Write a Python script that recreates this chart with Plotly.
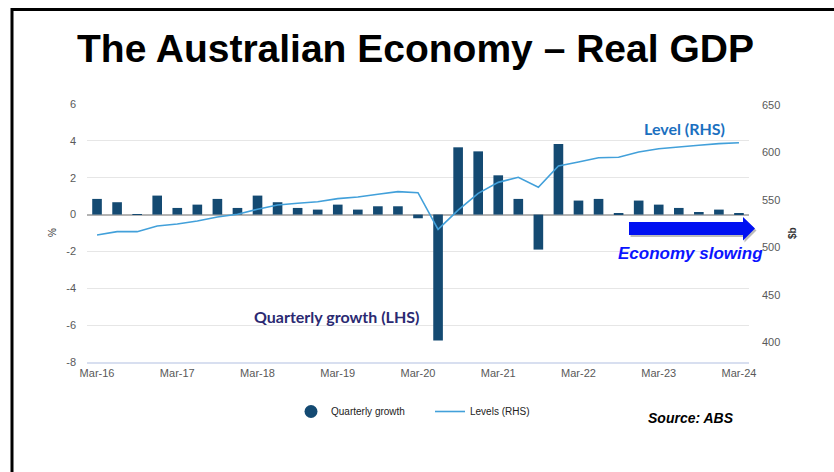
import plotly.graph_objects as go

# Quarter labels, Mar-16 .. Mar-24
quarters = [f"{m}-{y}" for y in range(16, 25) for m in ("Mar", "Jun", "Sep", "Dec")][:33]
tick_labels = ["Mar-16", "Mar-17", "Mar-18", "Mar-19", "Mar-20",
               "Mar-21", "Mar-22", "Mar-23", "Mar-24"]
growth_ticks = [6, 4, 2, 0, -2, -4, -6, -8]
level_ticks = [400, 450, 500, 550, 600, 650]

# Quarterly growth in real GDP, % (LHS)
growth = [0.85, 0.67, 0.02, 1.03, 0.36, 0.54, 0.85, 0.36,
          1.03, 0.67, 0.36, 0.27, 0.54, 0.27, 0.45, 0.45,
          -0.20, -6.83, 3.65, 3.43, 2.13, 0.85, -1.90, 3.83,
          0.76, 0.85, 0.05, 0.76, 0.54, 0.36, 0.14, 0.27, 0.07]

# Level of real GDP, $b (RHS)
levels = [512.9, 516.4, 516.4, 522.4, 524.5, 527.6, 531.9, 534.7,
          540.0, 544.5, 546.3, 548.0, 551.2, 553.0, 555.8, 558.6,
          557.5, 518.8, 539.2, 556.8, 568.4, 573.7, 563.2, 585.7,
          589.9, 594.4, 594.8, 600.4, 603.9, 606.0, 607.5, 609.2, 610.2]

W, H = 834, 472
L, R, T, B = 87, 749, 104, 362


def px(x):
    return (x - L) / (R - L)


def py(y):
    return (B - y) / (B - T)


BAR = "#144a72"
LINE = "#42a0da"
TICK = dict(family="Liberation Sans, Arial, sans-serif", size=11, color="#595959")

fig = go.Figure()

fig.add_trace(go.Bar(
    x=quarters, y=growth, marker=dict(color=BAR, line=dict(width=0)),
    width=0.48, name="Quarterly growth", showlegend=False,
))
# legend entry for the bars, shown with a round marker
fig.add_trace(go.Scatter(
    x=[None], y=[None], mode="markers", name="Quarterly growth",
    marker=dict(color=BAR, size=13, symbol="circle"),
))
fig.add_trace(go.Scatter(
    x=quarters, y=levels, yaxis="y2", mode="lines", name="Levels (RHS)",
    line=dict(color=LINE, width=1.6),
))

shapes = []
# slide frame: top and left rules
shapes.append(dict(type="line", xref="paper", yref="paper",
                   x0=px(11), x1=px(834), y0=py(9.5), y1=py(9.5),
                   line=dict(color="black", width=3)))
shapes.append(dict(type="line", xref="paper", yref="paper",
                   x0=px(12), x1=px(12), y0=py(8), y1=py(472),
                   line=dict(color="black", width=3)))


def arrow_path(dx=0, dy=0):
    pts = [(629, 222), (743, 222), (743, 217), (755, 228.5),
           (743, 240.5), (743, 235), (629, 235)]
    s = "M " + " L ".join(f"{px(x + dx):.5f},{py(y + dy):.5f}" for x, y in pts) + " Z"
    return s


# "Economy slowing" arrow with a soft shadow
shapes.append(dict(type="path", xref="paper", yref="paper", path=arrow_path(1.5, 2),
                   fillcolor="rgba(60,60,60,0.35)", line=dict(width=0)))
shapes.append(dict(type="path", xref="paper", yref="paper", path=arrow_path(),
                   fillcolor="#0010f2", line=dict(width=0)))

annotations = [
    dict(text="<b>The Australian Economy – Real GDP</b>", x=px(415), y=py(48),
         xref="paper", yref="paper", showarrow=False, xanchor="center", yanchor="middle",
         font=dict(family="Liberation Sans, Arial, sans-serif", size=39, color="black")),
    dict(text="<b>Level (RHS)</b>", x=px(684.5), y=py(128), xref="paper", yref="paper",
         showarrow=False, xanchor="center", yanchor="middle",
         font=dict(family="Lato, Open Sans, sans-serif", size=16, color="#1b70c0")),
    dict(text="<b>Quarterly growth (LHS)</b>", x=px(336.5), y=py(316.5), xref="paper", yref="paper",
         showarrow=False, xanchor="center", yanchor="middle",
         font=dict(family="Lato, Open Sans, sans-serif", size=16, color="#2b2a72")),
    dict(text="<b><i>Economy slowing</i></b>", x=px(690), y=py(253), xref="paper", yref="paper",
         showarrow=False, xanchor="center", yanchor="middle",
         font=dict(family="Liberation Sans, Arial, sans-serif", size=17, color="#0a14ff")),
    dict(text="<b><i>Source: ABS</i></b>", x=px(691), y=py(418), xref="paper", yref="paper",
         showarrow=False, xanchor="center", yanchor="middle",
         font=dict(family="Liberation Sans, Arial, sans-serif", size=14, color="black")),
    dict(text="%", x=px(52), y=py(233), xref="paper", yref="paper", textangle=-90,
         showarrow=False, xanchor="center", yanchor="middle",
         font=dict(family="Liberation Sans, Arial, sans-serif", size=10, color="#333333")),
    dict(text="<b>$b</b>", x=px(792), y=py(233), xref="paper", yref="paper", textangle=-90,
         showarrow=False, xanchor="center", yanchor="middle",
         font=dict(family="Liberation Sans, Arial, sans-serif", size=10, color="#333333")),
]

fig.update_layout(
    width=W, height=H,
    margin=dict(l=L, r=W - R, t=T, b=H - B, pad=0),
    paper_bgcolor="white", plot_bgcolor="white",
    bargap=0.5,
    showlegend=True,
    legend=dict(orientation="h", x=px(291), y=py(397), xanchor="left", yanchor="top",
                font=dict(family="Liberation Sans, Arial, sans-serif", size=10, color="#222222"),
                bgcolor="rgba(0,0,0,0)", itemsizing="trace",
                entrywidth=94, entrywidthmode="pixels"),
    xaxis=dict(type="category", categoryorder="array", categoryarray=quarters,
               tickmode="array", tickvals=tick_labels, ticktext=tick_labels,
               tickangle=0, tickfont=TICK, ticks="", showgrid=False,
               showline=True, linecolor="#d8dff0", linewidth=1.5, range=[-0.5, 32.5]),
    yaxis=dict(range=[-8, 6], tickmode="array", tickvals=growth_ticks,
               ticktext=[str(v) for v in growth_ticks], tickfont=TICK, ticks="",
               showgrid=True, gridcolor="#e6e6e6", gridwidth=1,
               zeroline=True, zerolinecolor="#b3b3b3", zerolinewidth=2,
               showline=False, ticklabelstandoff=10),
    yaxis2=dict(range=[379, 651], overlaying="y", side="right",
                tickmode="array", tickvals=level_ticks,
                tickfont=TICK, ticks="", showgrid=False, zeroline=False,
                showline=False, ticklabelstandoff=12),
    shapes=shapes,
    annotations=annotations,
)

fig.write_html("out.html")
